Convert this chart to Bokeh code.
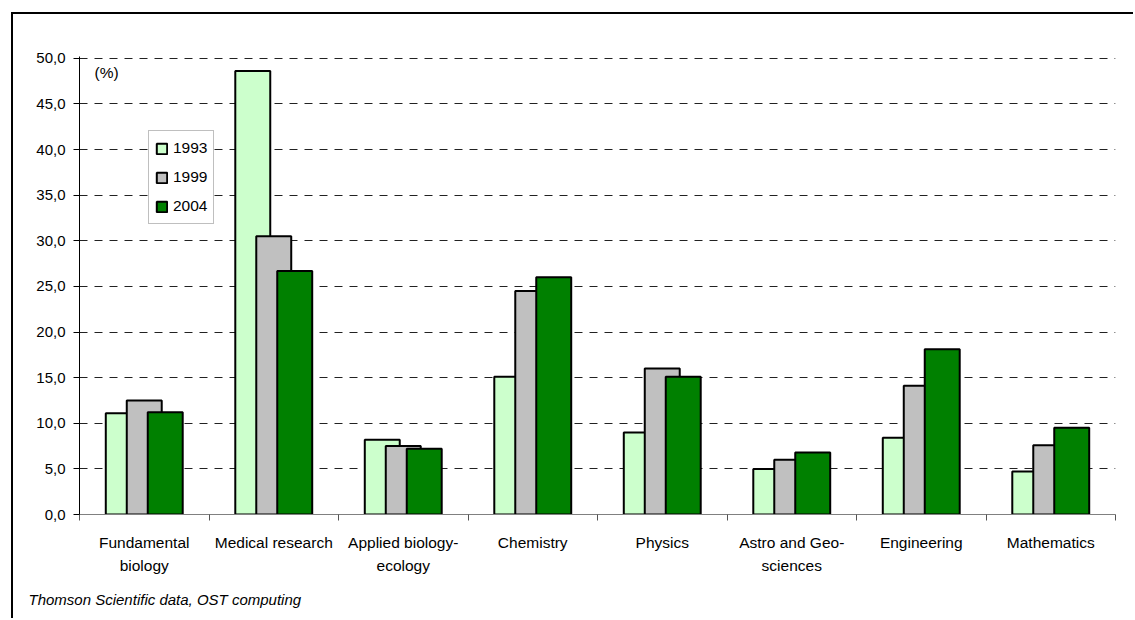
from bokeh.plotting import figure
from bokeh.models import (Range1d, FixedTicker, CustomJSTickFormatter, Legend, LegendItem,
                          Label, LinearAxis, Title)
from bokeh.embed import file_html
from bokeh.resources import INLINE

categories = ["Fundamental\nbiology", "Medical research", "Applied biology-\necology", "Chemistry",
              "Physics", "Astro and Geo-\nsciences", "Engineering", "Mathematics"]
years = ["1993", "1999", "2004"]
v1993 = [11.1, 48.6, 8.2, 15.1, 9.0, 5.0, 8.4, 4.7]
v1999 = [12.5, 30.5, 7.5, 24.5, 16.0, 6.0, 14.1, 7.6]
v2004 = [11.2, 26.7, 7.2, 26.0, 15.1, 6.8, 18.1, 9.5]
y_ticks = [0, 5, 10, 15, 20, 25, 30, 35, 40, 45, 50]
colors = ["#CCFFCC", "#C0C0C0", "#008000"]
FONT = "Liberation Sans"

p = figure(width=1122, height=606, output_backend="svg", toolbar_location=None,
           x_range=Range1d(0, len(categories)), y_range=Range1d(0, 50.2),
           min_border_left=66, min_border_right=20, min_border_top=42, min_border_bottom=106)
p.styles = {"margin-left": "11px", "margin-top": "12px",
            "border-left": "2px solid #000000", "border-top": "2px solid #000000"}
p.outline_line_color = None
p.background_fill_color = "white"
p.border_fill_color = "white"
p.xaxis.visible = False
p.xgrid.visible = False

# y axis
yax = p.yaxis[0]
yax.ticker = FixedTicker(ticks=y_ticks, minor_ticks=[])
yax.formatter = CustomJSTickFormatter(code="return tick.toFixed(1).replace('.', ',');")
yax.major_tick_out = 6
yax.major_tick_in = 0
yax.minor_tick_out = 0
yax.axis_line_color = "#000000"
yax.major_tick_line_color = "#000000"
yax.major_label_text_font = FONT
yax.major_label_text_font_size = "15px"
yax.major_label_text_color = "#000000"
yax.major_label_standoff = 8

p.ygrid.ticker = FixedTicker(ticks=y_ticks[1:])
p.ygrid.grid_line_color = "#222222"
p.ygrid.grid_line_dash = "8 7"
p.ygrid.grid_line_width = 1

# x axis: labels at category centres, ticks at category boundaries
centers = [i + 0.5 for i in range(len(categories))]
bounds = list(range(len(categories) + 1))
xax = LinearAxis(ticker=FixedTicker(ticks=centers, minor_ticks=bounds))
xax.major_label_overrides = {c: lab for c, lab in zip(centers, categories)}
xax.major_tick_out = 0
xax.major_tick_in = 0
xax.minor_tick_out = 6
xax.minor_tick_in = 0
xax.axis_line_color = "#808080"
xax.minor_tick_line_color = "#555555"
xax.major_label_text_font = FONT
xax.major_label_text_font_size = "15.5px"
xax.major_label_text_color = "#000000"
xax.major_label_text_line_height = 1.4
xax.major_label_standoff = 13
p.add_layout(xax, "below")

# bars
offsets = [-0.162, 0.0, 0.162]
renderers = []
for vals, col, off in zip([v1993, v1999, v2004], colors, offsets):
    xs = [c + off for c in centers]
    r = p.vbar(x=xs, top=vals, width=0.27, bottom=0, fill_color=col,
               line_color="#000000", line_width=2)
    renderers.append(r)

legend = Legend(items=[LegendItem(label=y, renderers=[r]) for y, r in zip(years, renderers)],
                location=(69, 290), orientation="vertical")
legend.border_line_color = "#808080"
legend.border_line_width = 1
legend.background_fill_color = "white"
legend.background_fill_alpha = 1
legend.label_text_font = FONT
legend.label_text_font_size = "15.5px"
legend.label_text_color = "#000000"
legend.glyph_width = 13
legend.glyph_height = 13
legend.label_height = 22
legend.label_standoff = 5
legend.spacing = 7
legend.padding = 6
legend.margin = 0
p.add_layout(legend, "center")

p.add_layout(Label(x=0.116, y=48.4, text="(%)", text_font=FONT, text_font_size="15.5px",
                   text_color="#000000", text_baseline="middle"))

note = Title(text="Thomson Scientific data, OST computing", align="left", offset=-51,
             text_font=FONT, text_font_size="15px", text_font_style="italic",
             text_color="#000000", standoff=23)
p.add_layout(note, "below")

open("out.html", "w").write(file_html(p, INLINE))
